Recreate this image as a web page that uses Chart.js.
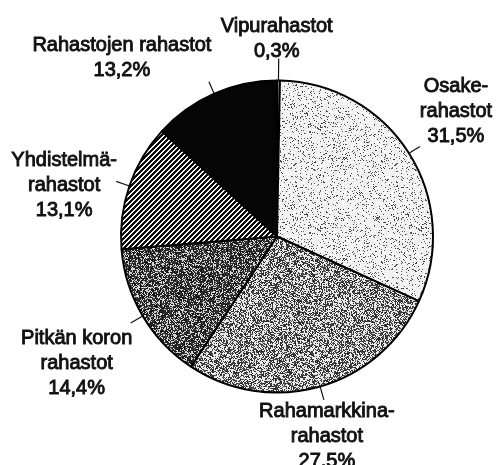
<!DOCTYPE html>
<html><head><meta charset="utf-8">
<script src="https://cdn.jsdelivr.net/npm/chart.js@4.4.1/dist/chart.umd.min.js"></script>
<style>html,body{margin:0;padding:0;background:#fff;}canvas{display:block;}</style>
</head><body>
<canvas id="c" width="496" height="465"></canvas>
<script>
// ---- data ----
const categories = ["Vipurahastot", "Osakerahastot", "Rahamarkkinarahastot", "Pitkän koron rahastot", "Yhdistelmärahastot", "Rahastojen rahastot"];
const labelLines = [["Vipurahastot"], ["Osake-", "rahastot"], ["Rahamarkkina-", "rahastot"], ["Pitkän koron", "rahastot"], ["Yhdistelmä-", "rahastot"], ["Rahastojen rahastot"]];
const shares = [0.3, 31.5, 27.5, 14.4, 13.1, 13.2];
const shareLabels = ["0,3%", "31,5%", "27,5%", "14,4%", "13,1%", "13,2%"];

// ---- style / layout ----
const labelLayout = [
  {len: 22, dx: -2, dy: -32},
  {len: 13, dx: 36, dy: -60},
  {len: 14, dx: 3, dy: 12},
  {len: 14, dx: -54, dy: 15},
  {len: 14, dx: -52, dy: -21},
  {len: 13, dx: -87, dy: -36}
];
const LINE_H = 25;
const FONT = '20px "Liberation Sans", Arial, sans-serif';

function hash(x, y, s) {
  let h = Math.imul(x, 374761393) ^ Math.imul(y, 668265263) ^ Math.imul(s, 1274126177);
  h = Math.imul(h ^ (h >>> 13), 1103515245);
  h ^= h >>> 16;
  return (h >>> 0) / 4294967296;
}
function stipple(seed, density, bg, dark) {
  const size = 101;
  const cv = document.createElement('canvas');
  cv.width = size; cv.height = size;
  const c = cv.getContext('2d');
  const img = c.createImageData(size, size);
  for (let y = 0; y < size; y++) for (let x = 0; x < size; x++) {
    const r = hash(x, y, seed);
    const v = r < density ? dark + Math.floor(hash(x, y, seed + 7) * 60) : bg - Math.floor(hash(x, y, seed + 3) * 25);
    const i = (y * size + x) * 4;
    img.data[i] = img.data[i + 1] = img.data[i + 2] = Math.max(0, Math.min(255, v));
    img.data[i + 3] = 255;
  }
  c.putImageData(img, 0, 0);
  return c.createPattern(cv, 'repeat');
}
function stripes() {
  const size = 60;
  const cv = document.createElement('canvas');
  cv.width = size; cv.height = size;
  const c = cv.getContext('2d');
  const img = c.createImageData(size, size);
  for (let y = 0; y < size; y++) for (let x = 0; x < size; x++) {
    const v = ((x + y) % 5) < 3 ? 10 : 245;
    const i = (y * size + x) * 4;
    img.data[i] = img.data[i + 1] = img.data[i + 2] = v;
    img.data[i + 3] = 255;
  }
  c.putImageData(img, 0, 0);
  return c.createPattern(cv, 'repeat');
}

const fills = [
  '#9a9a9a',
  stipple(11, 0.11, 255, 50),
  stipple(23, 0.5, 245, 30),
  stipple(37, 0.7, 225, 10),
  stripes(),
  '#050505'
];

const labelPlugin = {
  id: 'sliceLabels',
  afterDatasetsDraw(chart) {
    const ctx = chart.ctx;
    const meta = chart.getDatasetMeta(0);
    ctx.save();
    ctx.font = FONT;
    ctx.fillStyle = '#111';
    ctx.strokeStyle = '#111';
    ctx.textAlign = 'center';
    ctx.textBaseline = 'middle';
    meta.data.forEach((arc, i) => {
      const p = arc.getProps(['x', 'y', 'startAngle', 'endAngle', 'outerRadius'], true);
      const mid = (p.startAngle + p.endAngle) / 2;
      const L = labelLayout[i];
      const x0 = p.x + Math.cos(mid) * p.outerRadius, y0 = p.y + Math.sin(mid) * p.outerRadius;
      const x1 = p.x + Math.cos(mid) * (p.outerRadius + L.len), y1 = p.y + Math.sin(mid) * (p.outerRadius + L.len);
      ctx.lineWidth = 1.2;
      ctx.beginPath(); ctx.moveTo(x0, y0); ctx.lineTo(x1, y1); ctx.stroke();
      const lines = labelLines[i].concat([shareLabels[i]]);
      lines.forEach((t, k) => {
        const tx = x1 + L.dx, ty = y1 + L.dy + k * LINE_H;
        ctx.lineWidth = 0.9;
        ctx.strokeText(t, tx, ty);
        ctx.fillText(t, tx, ty);
      });
    });
    ctx.restore();
  }
};

new Chart(document.getElementById('c'), {
  type: 'pie',
  data: {
    labels: categories,
    datasets: [{
      data: shares,
      backgroundColor: fills,
      borderColor: '#000',
      borderWidth: 2,
      radius: 156
    }]
  },
  options: {
    responsive: false,
    animation: false,
    layout: {padding: {left: 121, right: 63, top: 81, bottom: 73}},
    plugins: {legend: {display: false}, tooltip: {enabled: false}}
  },
  plugins: [labelPlugin]
});
</script>
</body></html>
